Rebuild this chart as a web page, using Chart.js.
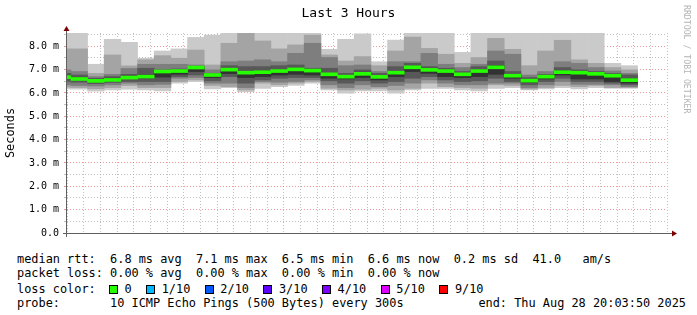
<!DOCTYPE html>
<html>
<head>
<meta charset="utf-8">
<title>Last 3 Hours</title>
<script src="https://cdn.jsdelivr.net/npm/chart.js@4.4.1/dist/chart.umd.min.js"></script>
<style>
  body { margin: 0; background: #fff; }
  #quadro { position: relative; width: 697px; height: 315px; font-family: 'DejaVu Sans Mono', monospace; color: #000; overflow: hidden; }
  #grafico { position: absolute; left: 0; top: 0; }
  #titulo { position: absolute; left: 0; top: 5px; width: 697px; text-align: center; font-size: 13px; line-height: 16px; }
  #marca { position: absolute; left: 682px; top: 5px; writing-mode: vertical-rl; font-size: 8.2px; line-height: 10px; color: #b4b4b4; }
  .linha { position: absolute; white-space: pre; font-size: 11.9px; line-height: 14px; }
  #perda { position: absolute; left: 109px; top: 282px; display: flex; align-items: center; height: 14px; font-size: 11.9px; white-space: pre; }
  .caixa { width: 9px; height: 9px; box-sizing: border-box; border: 1px solid #000; margin-right: 6.5px; }
  .rotulo { margin-right: 14.5px; }
</style>
</head>
<body>
<div id="quadro">
  <canvas id="grafico" width="697" height="250"></canvas>
  <div id="titulo">Last 3 Hours</div>
  <div id="marca">RRDTOOL / TOBI OETIKER</div>
  <div class="linha" style="left:17px;top:252px">median rtt:  6.8 ms avg  7.1 ms max  6.5 ms min  6.6 ms now  0.2 ms sd  41.0   am/s</div>
  <div class="linha" style="left:17px;top:266px">packet loss: 0.00 % avg  0.00 % max  0.00 % min  0.00 % now</div>
  <div class="linha" style="left:17px;top:282px">loss color:</div>
  <div id="perda"></div>
  <div class="linha" style="left:17px;top:296px">probe:       10 ICMP Echo Pings (500 Bytes) every 300s</div>
  <div class="linha" style="right:11px;top:296px">end: Thu Aug 28 20:03:50 2025</div>
</div>
<script>
// inicio de cada intervalo de 5 minutos
var horario = ['17:00', '17:05', '17:10', '17:15', '17:20', '17:25', '17:30', '17:35', '17:40', '17:45',
  '17:50', '17:55', '18:00', '18:05', '18:10', '18:15', '18:20', '18:25', '18:30', '18:35',
  '18:40', '18:45', '18:50', '18:55', '19:00', '19:05', '19:10', '19:15', '19:20', '19:25',
  '19:30', '19:35', '19:40', '19:45', '19:50'];

// os 10 pings de cada intervalo, ordenados (ms)
var ping10 = [8.6, 8.6, 7.23, 8.30, 8.17, 7.49, 7.80, 7.89, 8.38, 8.48, 8.6, 8.6, 8.6, 8.6, 8.6, 8.6, 7.87, 8.30, 8.53, 7.34,
  8.27, 8.56, 8.6, 8.6, 7.74, 8.6, 8.6, 8.6, 8.6, 8.6, 8.6, 8.6, 8.6, 7.27, 7.17];
var ping9 = [7.89, 7.89, 6.84, 7.63, 7.16, 7.42, 7.60, 7.49, 7.84, 7.20, 8.13, 8.6, 8.23, 7.89, 8.06, 8.48, 7.63, 7.37, 7.56, 7.17,
  7.80, 8.40, 7.91, 7.66, 7.27, 7.52, 8.34, 7.87, 7.17, 7.80, 8.26, 7.42, 7.27, 7.09, 6.99];
var ping8 = [6.99, 6.92, 6.70, 6.80, 7.05, 7.23, 7.23, 7.23, 7.20, 6.99, 7.34, 7.37, 7.42, 7.34, 7.70, 8.13, 7.52, 7.17, 7.20, 6.92,
  7.34, 7.34, 7.70, 7.23, 7.09, 7.23, 7.80, 7.66, 6.77, 6.92, 7.34, 7.27, 7.09, 6.94, 6.84];
var ping7 = [6.84, 6.77, 6.63, 6.70, 6.80, 7.06, 6.99, 7.03, 7.13, 6.84, 7.17, 7.13, 7.13, 7.17, 7.20, 7.06, 7.06, 6.84, 6.99, 6.84,
  7.13, 7.27, 7.13, 7.06, 6.92, 7.13, 7.37, 6.92, 6.66, 6.80, 7.09, 6.99, 6.92, 6.84, 6.77];
var ping6 = [6.74, 6.66, 6.57, 6.63, 6.72, 6.77, 6.95, 6.97, 7.12, 6.80, 7.03, 6.92, 6.94, 6.99, 7.06, 6.99, 6.84, 6.74, 6.89, 6.74,
  6.92, 7.13, 7.03, 6.99, 6.84, 6.99, 7.17, 6.80, 6.59, 6.74, 6.94, 6.92, 6.84, 6.77, 6.60];
var ping5 = [6.62, 6.56, 6.49, 6.53, 6.63, 6.63, 6.68, 6.80, 6.92, 6.66, 6.83, 6.66, 6.70, 6.77, 6.80, 6.77, 6.63, 6.60, 6.66, 6.56,
  6.70, 6.92, 6.84, 6.70, 6.66, 6.70, 6.80, 6.63, 6.46, 6.60, 6.77, 6.60, 6.60, 6.49, 6.42];
var ping4 = [6.50, 6.46, 6.40, 6.45, 6.49, 6.49, 6.49, 6.70, 6.77, 6.52, 6.70, 6.42, 6.56, 6.63, 6.66, 6.66, 6.52, 6.42, 6.52, 6.42,
  6.49, 6.63, 6.70, 6.56, 6.49, 6.52, 6.63, 6.49, 6.35, 6.49, 6.63, 6.49, 6.49, 6.42, 6.35];
var ping3 = [6.35, 6.32, 6.30, 6.35, 6.42, 6.35, 6.37, 6.63, 6.66, 6.42, 6.42, 6.23, 6.49, 6.46, 6.49, 6.56, 6.35, 6.23, 6.35, 6.27,
  6.32, 6.42, 6.56, 6.42, 6.35, 6.35, 6.42, 6.42, 6.23, 6.35, 6.49, 6.37, 6.37, 6.35, 6.27];
var ping2 = [6.25, 6.23, 6.18, 6.23, 6.32, 6.23, 6.23, 6.49, 6.56, 6.32, 6.27, 6.13, 6.42, 6.35, 6.42, 6.49, 6.20, 6.13, 6.16, 6.20,
  6.13, 6.20, 6.42, 6.27, 6.23, 6.20, 6.35, 6.32, 6.17, 6.23, 6.32, 6.27, 6.32, 6.23, 6.23];
var ping1 = [6.17, 6.16, 6.08, 6.13, 6.16, 6.13, 6.09, 6.42, 6.49, 6.17, 6.23, 6.06, 6.20, 6.27, 6.32, 6.42, 6.13, 5.99, 6.09, 6.09,
  5.99, 6.13, 6.20, 6.20, 6.13, 6.09, 6.20, 6.23, 6.13, 6.17, 6.23, 6.17, 6.23, 6.20, 6.20];
// mediana de cada intervalo (linha verde)
var mediana = [6.68, 6.60, 6.52, 6.56, 6.66, 6.70, 6.92, 6.94, 7.09, 6.77, 7.00, 6.87, 6.89, 6.94, 7.01, 6.96, 6.80, 6.70, 6.82, 6.69,
  6.87, 7.10, 6.99, 6.94, 6.80, 6.94, 7.10, 6.74, 6.53, 6.70, 6.89, 6.87, 6.82, 6.74, 6.55];

var rotulosX = ['17:20', '17:40', '18:00', '18:20', '18:40', '19:00', '19:20', '19:40', '20:00'];
var rotulosY = ['0.0', '1.0 m', '2.0 m', '3.0 m', '4.0 m', '5.0 m', '6.0 m', '7.0 m', '8.0 m'];

var perdaRotulos = ['0', '1/10', '2/10', '3/10', '4/10', '5/10', '9/10'];
var perdaCores = ['#26ff00', '#00b8ff', '#0059ff', '#5e00ff', '#7e00ff', '#dd00ff', '#ff0000'];

// janela de 3 horas: 17:03:50 a 20:03:50 (minutos depois das 17:00)
var INICIO = 3 + 50 / 60;
var FIM = 183 + 50 / 60;
var ESPESSURA_MEDIANA = 0.064;

function minutos(hhmm) {
  var p = hhmm.split(':');
  return (parseInt(p[0]) - 17) * 60 + parseInt(p[1]);
}

function paraHora(m) {
  var h = 17 + Math.floor(m / 60);
  var mm = Math.round(m % 60);
  return h + ':' + (mm < 10 ? '0' + mm : mm);
}

function faixa(baixo, alto) {
  var pontos = [];
  for (var i = 0; i < horario.length; i++) {
    pontos.push({ x: minutos(horario[i]) + 2.5, y: [baixo[i], alto[i]] });
  }
  return pontos;
}

var baixoMediana = mediana.map(function (v) { return v - ESPESSURA_MEDIANA; });
var altoMediana = mediana.map(function (v) { return v + ESPESSURA_MEDIANA; });

function conjunto(dados, cor) {
  return {
    data: dados,
    backgroundColor: cor,
    borderWidth: 0,
    grouped: false,
    barPercentage: 1,
    categoryPercentage: 1,
    clip: 0
  };
}

// o primeiro conjunto fica por cima
var conjuntos = [
  conjunto(faixa(baixoMediana, altoMediana), '#26ff00'),
  conjunto(faixa(ping5, ping6), '#323232'),
  conjunto(faixa(ping4, ping7), '#585858'),
  conjunto(faixa(ping3, ping8), '#7e7e7e'),
  conjunto(faixa(ping2, ping9), '#a4a4a4'),
  conjunto(faixa(ping1, ping10), '#cacaca')
];

var GRADE_MAIOR = 'rgba(225,70,70,0.55)';
var GRADE_MENOR = 'rgba(140,140,140,0.55)';
var fonteEixo = { family: 'DejaVu Sans Mono', size: 10 };

// eixos com setas, como no rrdtool
var eixos = {
  id: 'eixos',
  afterDraw: function (chart) {
    var ctx = chart.ctx;
    var a = chart.chartArea;
    ctx.save();
    ctx.strokeStyle = '#606060';
    ctx.lineWidth = 1;
    ctx.beginPath();
    ctx.moveTo(a.left - 4, a.bottom + 0.5);
    ctx.lineTo(a.right + 5, a.bottom + 0.5);
    ctx.moveTo(a.left - 0.5, a.bottom + 4);
    ctx.lineTo(a.left - 0.5, a.top - 2);
    ctx.stroke();
    ctx.fillStyle = '#7f0000';
    ctx.beginPath();
    ctx.moveTo(a.right + 5, a.bottom - 2.5);
    ctx.lineTo(a.right + 10, a.bottom + 0.5);
    ctx.lineTo(a.right + 5, a.bottom + 3.5);
    ctx.fill();
    ctx.beginPath();
    ctx.moveTo(a.left - 3.5, a.top - 2);
    ctx.lineTo(a.left - 0.5, a.top - 7);
    ctx.lineTo(a.left + 2.5, a.top - 2);
    ctx.fill();
    ctx.restore();
  }
};

new Chart(document.getElementById('grafico'), {
  type: 'bar',
  data: { datasets: conjuntos },
  options: {
    responsive: false,
    animation: false,
    devicePixelRatio: 1,
    layout: { padding: { top: 33, right: 30, left: 0, bottom: 0 } },
    plugins: {
      legend: { display: false },
      tooltip: { enabled: false },
      title: { display: false }
    },
    scales: {
      x: {
        type: 'linear',
        min: INICIO,
        max: FIM,
        offset: false,
        z: 1,
        grid: {
          offset: false,
          drawTicks: false,
          lineWidth: 1,
          color: function (c) { return c.tick && c.tick.value % 20 === 0 ? GRADE_MAIOR : GRADE_MENOR; }
        },
        border: { display: false, dash: [1, 2] },
        ticks: {
          stepSize: 5,
          includeBounds: false,
          autoSkip: false,
          maxRotation: 0,
          minRotation: 0,
          padding: 2,
          color: '#000',
          font: fonteEixo,
          callback: function (v) {
            var s = paraHora(v);
            return rotulosX.indexOf(s) >= 0 ? s : '';
          }
        },
        afterFit: function (s) { s.height = 17; }
      },
      y: {
        min: 0,
        max: 8.57,
        z: 1,
        grid: {
          tickLength: 3,
          lineWidth: 1,
          color: function (c) {
            if (!c.tick) return GRADE_MENOR;
            return Math.abs(c.tick.value - Math.round(c.tick.value)) < 1e-6 ? GRADE_MAIOR : GRADE_MENOR;
          }
        },
        border: { display: false, dash: [1, 2] },
        ticks: {
          stepSize: 0.5,
          includeBounds: false,
          autoSkip: false,
          padding: 5,
          color: '#000',
          font: fonteEixo,
          callback: function (v) {
            var r = Math.round(v);
            return Math.abs(v - r) < 1e-6 ? rotulosY[r] : '';
          }
        },
        title: {
          display: true,
          text: 'Seconds',
          color: '#000',
          font: { family: 'DejaVu Sans Mono', size: 11.9 },
          padding: { top: 3.5, bottom: 0 }
        },
        afterFit: function (s) { s.width = 67; }
      }
    }
  },
  plugins: [eixos]
});

// legenda das cores de perda
var perda = document.getElementById('perda');
for (var i = 0; i < perdaRotulos.length; i++) {
  var caixa = document.createElement('span');
  caixa.className = 'caixa';
  caixa.style.backgroundColor = perdaCores[i];
  var rotulo = document.createElement('span');
  rotulo.className = 'rotulo';
  rotulo.textContent = perdaRotulos[i];
  perda.appendChild(caixa);
  perda.appendChild(rotulo);
}
</script>
</body>
</html>
